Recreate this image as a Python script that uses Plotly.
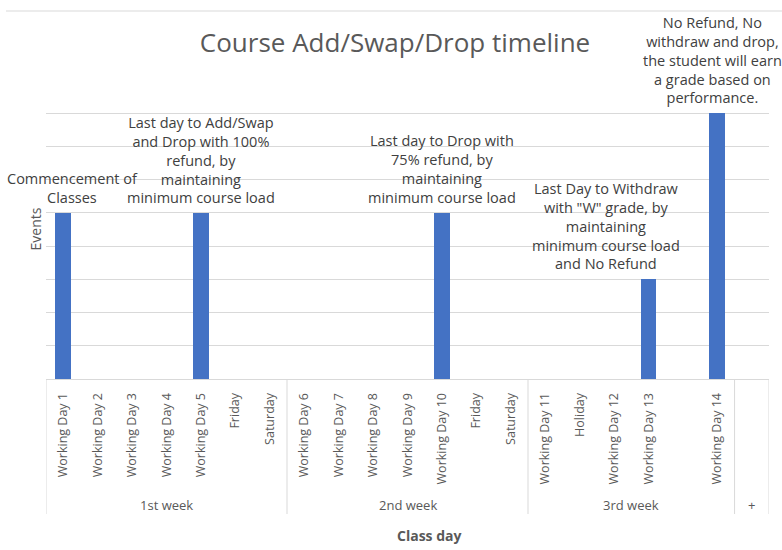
import plotly.graph_objects as go

weeks = ["1st week"] * 7 + ["2nd week"] * 7 + ["3rd week"] * 6 + ["+"]
days = ["Working Day 1", "Working Day 2", "Working Day 3", "Working Day 4", "Working Day 5", "Friday", "Saturday",
        "Working Day 6", "Working Day 7", "Working Day 8", "Working Day 9", "Working Day 10", "Friday", "Saturday",
        "Working Day 11", "Holiday", "Working Day 12", "Working Day 13", "", "Working Day 14",
        ""]
events = [5, None, None, None, 5, None, None,
          None, None, None, None, 5, None, None,
          None, None, None, 3, None, 8,
          None]
labels = ["Commencement of<br>Classes", "", "", "",
          "Last day to Add/Swap<br>and Drop with 100%<br>refund, by<br>maintaining<br>minimum course load", "", "",
          "", "", "", "",
          "Last day to Drop with<br>75% refund, by<br>maintaining<br>minimum course load", "", "",
          "", "", "",
          "Last Day to Withdraw<br>with \"W\" grade, by<br>maintaining<br>minimum course load<br>and No Refund", "",
          "No Refund, No<br>withdraw and drop,<br>the student will earn<br>a grade based on<br>performance.",
          ""]
label_shift = {0: 9, 17: -43, 19: -5}

FONT = "Open Sans"
GRAY = "#595959"
LINE = "#d9d9d9"

pos = list(range(len(days)))

fig = go.Figure()
fig.add_trace(go.Bar(x=pos, y=events, width=0.46, marker=dict(color="#4472C4", line=dict(width=0)),
                     hoverinfo="skip"))

W, H = 782, 550
L, R, T, B = 46, 13, 80, 171

anns = []
for i, (v, t) in enumerate(zip(events, labels)):
    if v is not None and t:
        anns.append(dict(x=i, y=v, xref="x", yref="y", text=t, showarrow=False,
                         xanchor="center", yanchor="bottom", yshift=4, xshift=label_shift.get(i, 0),
                         font=dict(family=FONT, size=14.5, color="#404040"), align="center"))

# group labels and dividers
groups = []
for i, w in enumerate(weeks):
    if not groups or groups[-1][0] != w:
        groups.append([w, i, i])
    else:
        groups[-1][2] = i

shapes = []
for name, s, e in groups:
    anns.append(dict(x=(s + e) / 2, y=1, xref="x", yref="paper", text=name, showarrow=False,
                     xanchor="center", yanchor="middle", yshift=-(505 - T),
                     font=dict(family=FONT, size=13, color=GRAY)))
bounds = [groups[0][1] - 0.5] + [g[2] + 0.5 for g in groups]
plot_h = H - T - B
for b in bounds:
    shapes.append(dict(type="line", xref="x", yref="paper", x0=b, x1=b, y0=0, y1=-(514 - (H - B)) / plot_h,
                       line=dict(color=LINE, width=1)))

# top border line
plot_w = W - L - R
shapes.append(dict(type="line", xref="paper", yref="paper", x0=(6 - L) / plot_w, x1=(W - L) / plot_w,
                   y0=1 + (T - 11) / plot_h, y1=1 + (T - 11) / plot_h, line=dict(color=LINE, width=1)))

# axis titles
anns.append(dict(x=0, y=0.5, xref="paper", yref="paper", text="Events", textangle=-90, showarrow=False,
                 xshift=-11, xanchor="center", yanchor="middle", font=dict(family=FONT, size=14, color=GRAY)))
anns.append(dict(x=(429 - L) / plot_w, y=0, xref="paper", yref="paper", text="<b>Class day</b>", showarrow=False,
                 xanchor="center", yanchor="middle", yshift=-(535 - (H - B)),
                 font=dict(family=FONT, size=14, color=GRAY)))

fig.update_layout(
    width=W, height=H, margin=dict(l=L, r=R, t=T, b=B),
    paper_bgcolor="white", plot_bgcolor="white", showlegend=False,
    title=dict(text="Course Add/Swap/Drop timeline", x=395 / W, xanchor="center", xref="container",
               y=1 - 43 / H, yanchor="middle", yref="container",
               font=dict(family=FONT, size=26, color=GRAY)),
    xaxis=dict(range=[-0.5, len(days) - 0.5], tickmode="array", tickvals=pos, ticktext=days, tickangle=-90,
               showgrid=False, zeroline=False, showline=True, linecolor=LINE, ticks="",
               ticklabelstandoff=8,
               tickfont=dict(family=FONT, size=12.5, color=GRAY), fixedrange=True),
    yaxis=dict(range=[0, 9], dtick=1, showticklabels=False, showgrid=True, gridcolor=LINE, zeroline=False,
               showline=False, ticks="", fixedrange=True),
    annotations=anns, shapes=shapes, bargap=0,
)

fig.write_html("out.html", config={"displayModeBar": False},
               post_script="document.body.style.margin='0';document.body.style.overflow='hidden';")
